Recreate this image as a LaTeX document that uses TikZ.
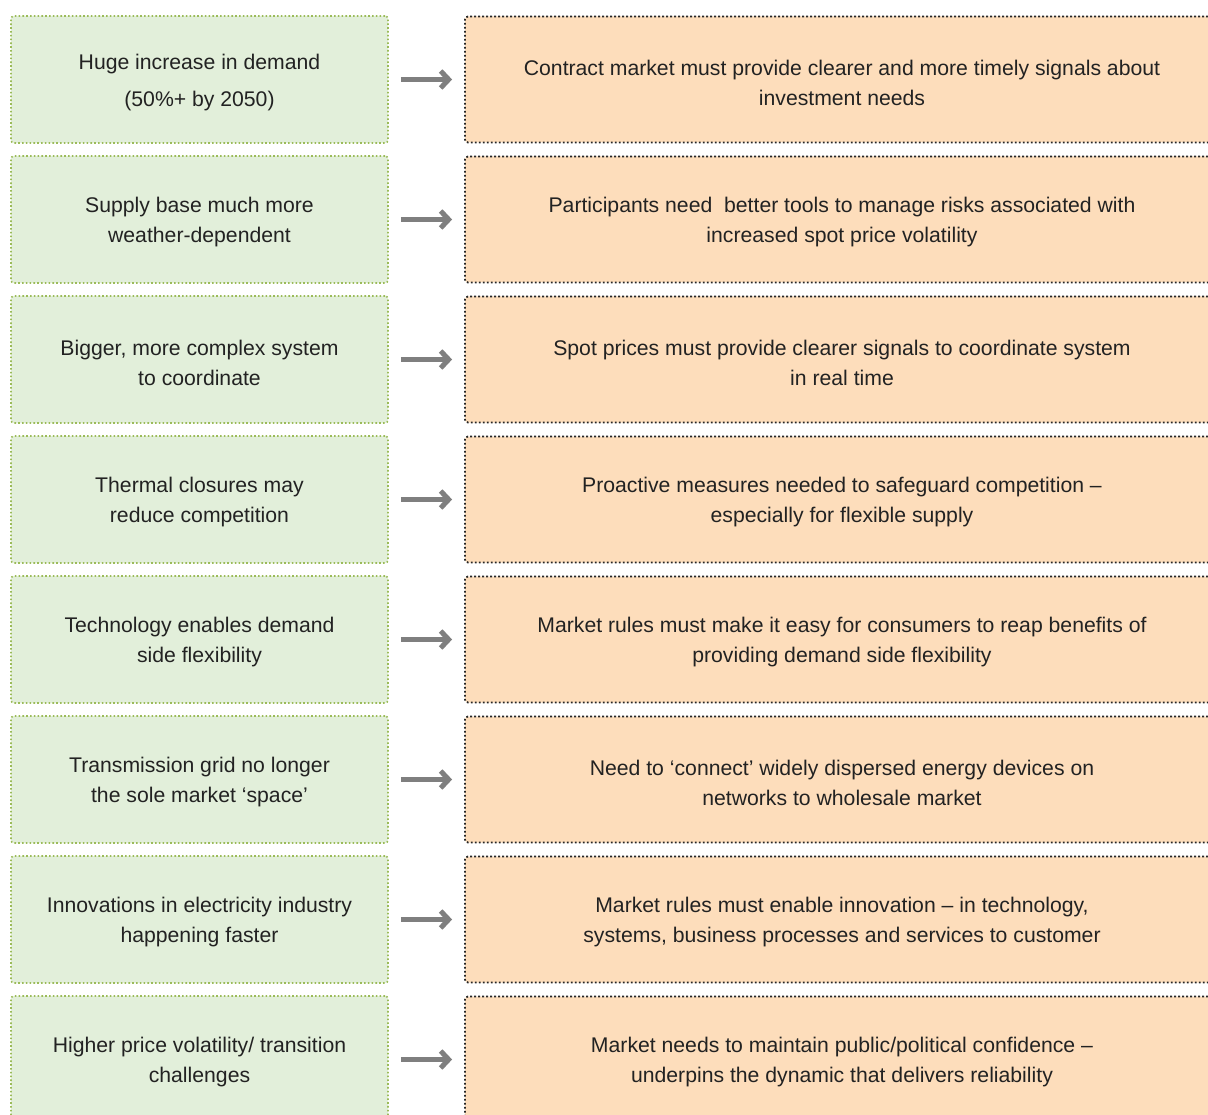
\documentclass[tikz,border=0pt]{standalone}
\usepackage{fontspec}
\setmainfont{Liberation Sans}
\usetikzlibrary{arrows.meta}
\definecolor{gfill}{HTML}{E2EFDA}
\definecolor{gline}{HTML}{9BBB59}
\definecolor{ofill}{HTML}{FDDDBB}
\definecolor{oline}{HTML}{262626}
\definecolor{arrgray}{HTML}{7F7F7F}
\definecolor{txt}{HTML}{222222}
\begin{document}
\begin{tikzpicture}[x=1pt,y=-1pt,
  every node/.style={font=\fontsize{21.2}{30}\selectfont, text=txt, align=center, inner sep=0pt},
  lbox/.style={fill=gfill, draw=gline, line width=1.6pt, dash pattern=on 1.6pt off 2.2pt,
    rounded corners=3pt, minimum width=377pt, minimum height=127pt},
  rbox/.style={fill=ofill, draw=oline, line width=1.8pt, dash pattern=on 1.8pt off 2.2pt,
    rounded corners=3pt, minimum width=754pt, minimum height=126pt},
  boxtext/.style={yshift=-3pt},
  arr/.style={draw=arrgray, line width=5.5pt, shorten <=12pt, shorten >=12pt,
    -{Straight Barb[length=8pt,width=17pt,line width=5pt]}}]
\useasboundingbox (0,0) rectangle (1208,1115);
\clip (0,0) rectangle (1208,1115);
\foreach \i/\lt/\rt in {
  1/{Huge increase in demand\\[7pt](50\%+ by 2050)}/{Contract market must provide clearer and more timely signals about\\investment needs},
  2/{Supply base much more\\weather-dependent}/{Participants need\ \ better tools to manage risks associated with\\increased spot price volatility},
  3/{Bigger, more complex system\\to coordinate}/{Spot prices must provide clearer signals to coordinate system\\in real time},
  4/{Thermal closures may\\reduce competition}/{Proactive measures needed to safeguard competition –\\especially for flexible supply},
  5/{Technology enables demand\\side flexibility}/{Market rules must make it easy for consumers to reap benefits of\\providing demand side flexibility},
  6/{Transmission grid no longer\\the sole market ‘space’}/{Need to ‘connect’ widely dispersed energy devices on\\networks to wholesale market},
  7/{Innovations in electricity industry\\happening faster}/{Market rules must enable innovation – in technology,\\systems, business processes and services to customer},
  8/{Higher price volatility/ transition\\challenges}/{Market needs to maintain public/political confidence –\\underpins the dynamic that delivers reliability}} {
  \pgfmathsetmacro{\yc}{79.5+140*(\i-1)}
  \node[lbox] (l\i) at (199.5,\yc) {};
  \node[rbox] (r\i) at (842,\yc) {};
  \node[boxtext] (lt\i) at (l\i.center) {\lt};
  \node[boxtext] (rt\i) at (r\i.center) {\rt};
  \draw[arr] (l\i) -- (r\i);
}
\end{tikzpicture}
\end{document}
